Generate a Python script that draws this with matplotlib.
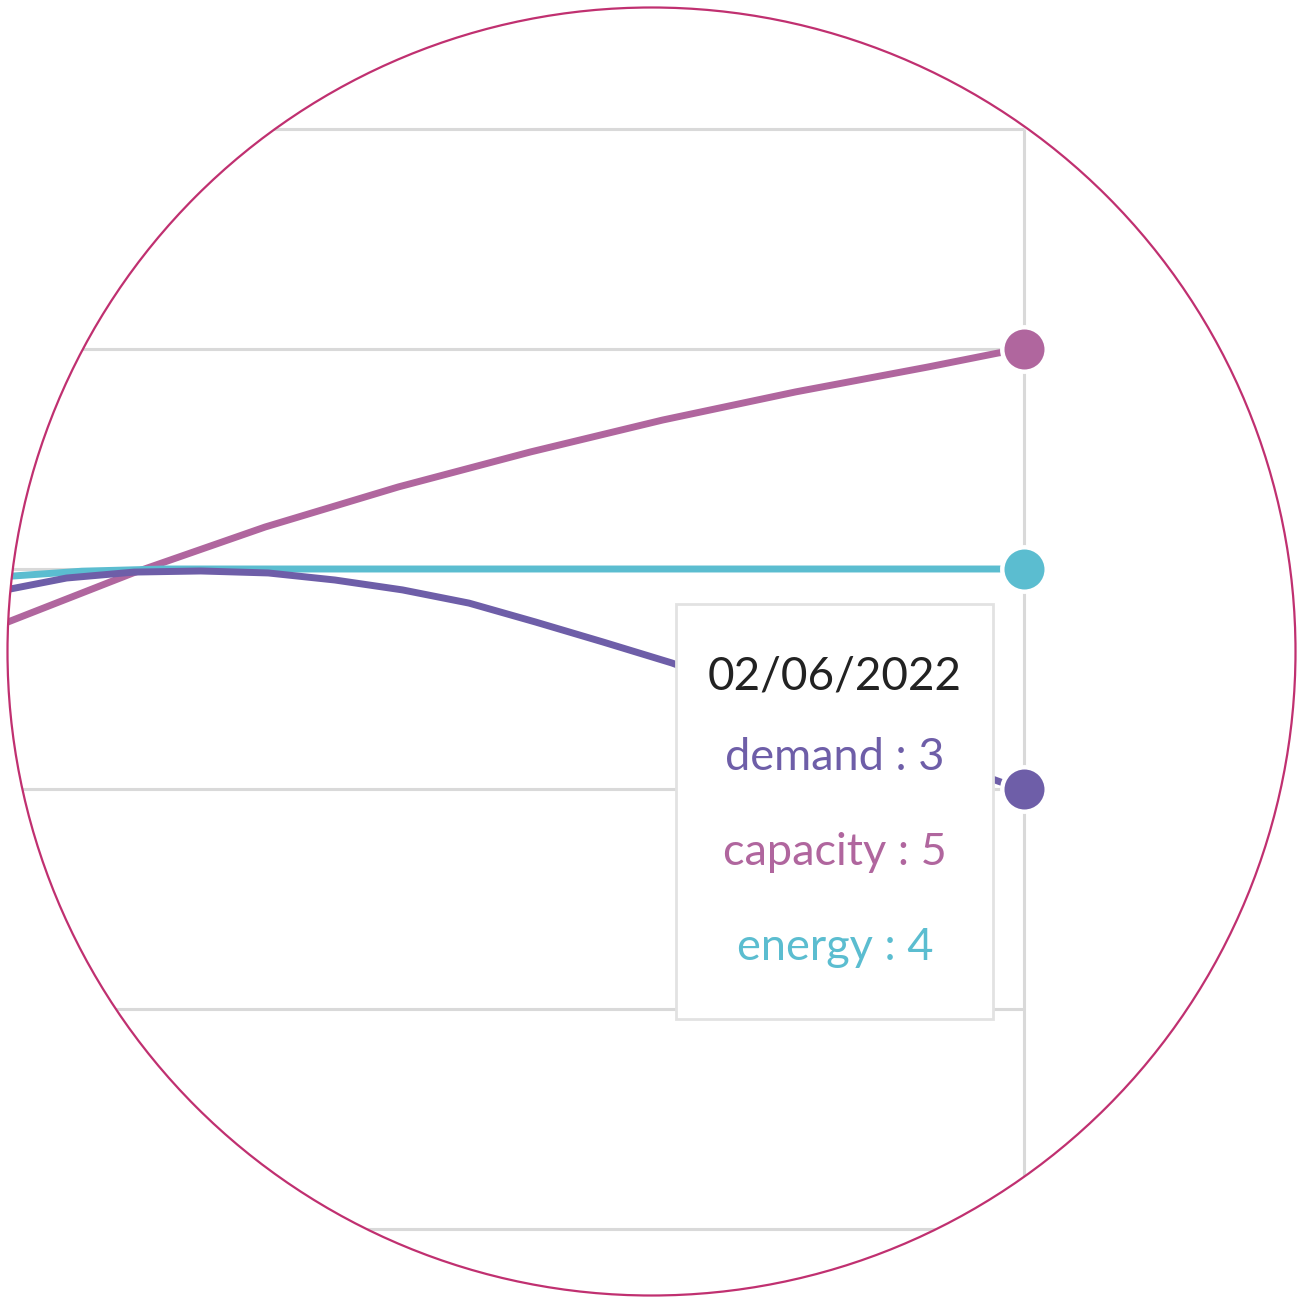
import numpy as np
import matplotlib
matplotlib.use("Agg")
import matplotlib.pyplot as plt
from matplotlib.patches import Circle, Rectangle

# x positions as fraction of the last interval (1.0 = 02/06/2022)
capacity_x = [0.0, 0.130, 0.259, 0.389, 0.518, 0.647, 0.777, 0.906, 0.975, 1.0]
capacity_y = [3.745, 3.982, 4.191, 4.373, 4.532, 4.677, 4.805, 4.918, 4.982, 5.0]

demand_x = [0.0, 0.065, 0.131, 0.196, 0.262, 0.327, 0.393, 0.458, 0.523, 0.589,
            0.656, 0.742, 0.830, 0.918, 0.977, 1.0]
demand_y = [3.90, 3.959, 3.986, 3.991, 3.982, 3.95, 3.905, 3.845, 3.759, 3.668,
            3.573, 3.43, 3.277, 3.132, 3.032, 3.0]

energy_x = [0.0, 0.08, 0.16, 1.0]
energy_y = [3.964, 3.99, 4.0, 4.0]

grid_values = [1, 2, 3, 4, 5, 6]
tooltip_date = "02/06/2022"
tooltip_rows = [("demand", 3), ("capacity", 5), ("energy", 4)]

colors = {"demand": "#6e5ea8", "capacity": "#b0669e", "energy": "#5bbdd0"}

plt.rcParams['font.family'] = ['Lato', 'DejaVu Sans']

fig = plt.figure(figsize=(13.03, 13.03), dpi=100)
ax = fig.add_axes([0, 0, 1, 1])
ax.set_xlim(0, 1303 / 1024)
ax.set_ylim(5 - 954 / 220, 5 + 349 / 220)
ax.axis('off')

clip = Circle((0.5, 0.5), 644 / 1303, transform=ax.transAxes,
              facecolor='none', edgecolor='none')
ax.add_patch(clip)

artists = []
artists.append(ax.hlines(grid_values, -1, 1.0, color='#d9d9d9', lw=2.2, zorder=1))
artists.append(ax.vlines([1.0], 0, 6, color='#d9d9d9', lw=2.2, zorder=1))

series = [("capacity", capacity_x, capacity_y),
          ("energy", energy_x, energy_y),
          ("demand", demand_x, demand_y)]
for name, xs, ys in series:
    ln, = ax.plot(xs, ys, color=colors[name], lw=5.0, solid_capstyle='butt',
                  solid_joinstyle='round', zorder=3)
    artists.append(ln)
for name, xs, ys in series:
    mk, = ax.plot(xs[-1], ys[-1], 'o', color=colors[name], ms=32,
                  mec='white', mew=3.2, zorder=4)
    artists.append(mk)

# tooltip
box = Rectangle((676 / 1303, 1 - 1019 / 1303), 317 / 1303, 415 / 1303,
                transform=ax.transAxes, facecolor='white', edgecolor='#e2e2e2',
                lw=2, zorder=5)
ax.add_patch(box)
artists.append(box)
tx = 835 / 1303
ax.text(tx, 1 - 690 / 1303, tooltip_date, transform=ax.transAxes, ha='center',
        va='baseline', fontsize=33, color='#222222', zorder=6)
for i, (name, val) in enumerate(tooltip_rows):
    base = [770, 865, 960][i]
    ax.text(tx, 1 - base / 1303, f"{name} : {val}", transform=ax.transAxes,
            ha='center', va='baseline', fontsize=32.5, color=colors[name], zorder=6)

for a in artists:
    a.set_clip_path(clip)

ax.add_patch(Circle((0.5, 0.5), 644 / 1303, transform=ax.transAxes,
                    facecolor='none', edgecolor='#c03070', lw=1.6, zorder=10))

fig.savefig("out.png", dpi=100, facecolor='white')
